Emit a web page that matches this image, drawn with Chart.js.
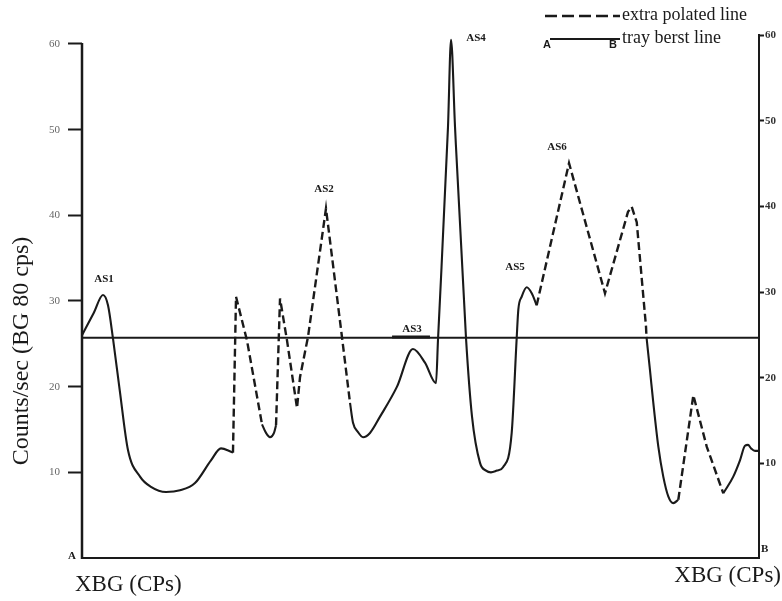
<!DOCTYPE html>
<html>
<head>
<meta charset="utf-8">
<script src="https://cdn.jsdelivr.net/npm/chart.js@4"></script>
<style>
html,body{margin:0;padding:0;background:#fff}
#wrap{width:782px;height:601px;position:relative}
</style>
</head>
<body>
<div id="wrap"><canvas id="c" width="782" height="601"></canvas></div>
<script>
// Position along the traverse A–B (axis units, 0 = A, 100 = B)
const traverse = [
  0.00, 1.73, 3.10, 3.84, 4.58, 5.57, 6.79, 8.57, 10.19, 12.41,
  14.48, 16.69, 19.05, 20.53, 22.01, 22.30, 22.75, 24.37, 26.59, 27.18,
  27.77, 28.36, 28.66, 29.25, 30.28, 31.76, 32.20, 33.38, 36.04, 38.40,
  39.59, 40.03, 40.77, 41.51, 42.54, 44.02, 46.53, 48.89, 50.66, 52.29,
  52.58, 54.06, 54.51, 55.10, 56.72, 57.61, 58.79, 59.68, 60.41, 61.30,
  62.19, 63.47, 64.21, 64.45, 64.95, 65.69, 66.43, 67.16, 71.94, 77.25,
  80.65, 81.20, 81.94, 83.31, 83.38, 83.90, 84.39, 85.13, 85.86, 86.60,
  87.34, 88.08, 90.30, 92.28, 94.73, 96.20, 97.19, 97.93, 98.38, 98.82,
  99.41, 100.0
];
// Counts/sec read at each traverse position
const counts = [
  26.0, 28.6, 30.7, 29.5, 25.6, 19.6, 12.6, 9.5, 8.3, 7.7,
  7.9, 8.75, 11.4, 12.8, 12.4, 12.3, 30.5, 25.4, 15.6, 14.6,
  14.1, 14.6, 15.5, 30.3, 25.4, 17.5, 21.1, 25.8, 40.8, 25.8,
  18.1, 15.8, 14.7, 14.1, 14.6, 16.5, 20.0, 24.4, 22.8, 20.4,
  25.4, 50.3, 60.5, 50.3, 25.7, 16.5, 11.1, 10.2, 10.0, 10.2,
  10.6, 14.6, 25.7, 29.0, 30.5, 31.6, 30.9, 29.5, 46.1, 30.9,
  40.4, 41.0, 39.2, 27.0, 25.8, 21.9, 18.1, 13.0, 9.5, 7.2,
  6.4, 6.8, 19.0, 13.0, 7.55, 9.5, 11.4, 13.1, 13.2, 12.8,
  12.5, 12.5
];
// Kind of stretch starting at each point: 's' = tray berst (measured), 'd' = extra polated
const lineKind = [
  's','s','s','s','s','s','s','s','s','s',
  's','s','s','s','s','d','d','d','s','s',
  's','s','d','d','d','d','d','d','d','d',
  's','s','s','s','s','s','s','s','s','s',
  's','s','s','s','s','s','s','s','s','s',
  's','s','s','s','s','s','s','d','d','d',
  'd','d','d','d','s','s','s','s','s','s',
  's','d','d','d','s','s','s','s','s','s',
  's'
];
const backgroundLevel = 25.7;
const as3Span = [45.8, 51.4];
const tickValues = [0, 10, 20, 30, 40, 50, 60];
const anomalyNames = ['AS1', 'AS2', 'AS3', 'AS4', 'AS5', 'AS6'];
const anomalyAt    = [3.25, 35.75, 48.74, 58.2, 63.96, 70.16];
const anomalyLevel = [32.6, 43.1, 26.7, 60.7, 33.9, 48.0];
const legendTexts = ['extra polated line', 'tray berst line'];
const yTitle = 'Counts/sec (BG 80 cps)';
const xTitle = 'XBG (CPs)';

const SERIF = '"Liberation Serif","Times New Roman",serif';
const INK = '#1a1a1a';

function build(kind) {
  const out = [];
  for (let i = 0; i < traverse.length - 1; i++) {
    if (lineKind[i] === kind) {
      const last = out[out.length - 1];
      if (!last || last.y === null || last.x !== traverse[i]) out.push({x: traverse[i], y: counts[i]});
      out.push({x: traverse[i + 1], y: counts[i + 1]});
    } else if (out.length && out[out.length - 1].y !== null) {
      out.push({x: (traverse[i] + traverse[i + 1]) / 2, y: null});
    }
  }
  return out;
}

const decor = {
  id: 'decor',
  afterDraw(chart) {
    const {ctx, chartArea: a, scales: {x, y, y2}} = chart;
    ctx.save();
    // left axis line (from 60 down to A)
    ctx.strokeStyle = INK; ctx.lineWidth = 2.5;
    ctx.beginPath();
    ctx.moveTo(a.left, y.getPixelForValue(60) - 1);
    ctx.lineTo(a.left, a.bottom + 1);
    ctx.stroke();

    ctx.fillStyle = INK;
    // end letters
    ctx.font = 'bold 11px ' + SERIF;
    ctx.textAlign = 'center'; ctx.textBaseline = 'middle';
    ctx.fillText('A', a.left - 10, a.bottom - 2);
    ctx.textAlign = 'left';
    ctx.fillText('B', a.right + 2, y2.getPixelForValue(0));

    // anomaly labels
    ctx.font = 'bold 11px ' + SERIF;
    ctx.textAlign = 'center';
    anomalyNames.forEach((n, i) => {
      ctx.fillText(n, x.getPixelForValue(anomalyAt[i]), y.getPixelForValue(anomalyLevel[i]));
    });

    // y title
    ctx.save();
    ctx.font = '24px ' + SERIF;
    ctx.translate(22, 351);
    ctx.rotate(-Math.PI / 2);
    ctx.textAlign = 'center'; ctx.textBaseline = 'middle';
    ctx.fillText(yTitle, 0, 0);
    ctx.restore();

    // bottom titles
    ctx.font = '23px ' + SERIF;
    ctx.textBaseline = 'middle';
    ctx.textAlign = 'left';
    ctx.fillText(xTitle, 75, 585);
    ctx.textAlign = 'right';
    ctx.fillText(xTitle, 781, 576);

    // legend
    ctx.lineWidth = 2.4;
    ctx.setLineDash([12, 5]);
    ctx.beginPath(); ctx.moveTo(545, 16); ctx.lineTo(620, 16); ctx.stroke();
    ctx.setLineDash([]);
    ctx.lineWidth = 2.2;
    ctx.beginPath(); ctx.moveTo(550, 39); ctx.lineTo(620, 39); ctx.stroke();
    ctx.font = '18px ' + SERIF;
    ctx.textAlign = 'left'; ctx.textBaseline = 'middle';
    ctx.fillText(legendTexts[0], 622, 15);
    ctx.fillText(legendTexts[1], 622, 38);
    ctx.font = 'bold 11px "Liberation Sans",Arial,sans-serif';
    ctx.textAlign = 'center';
    ctx.fillText('A', 547, 45);
    ctx.fillText('B', 613, 45);
    ctx.restore();
  }
};

const setTicks = s => { s.ticks = tickValues.map(v => ({value: v})); };
const hideZero = c => (c.tick && c.tick.value === 0) ? 'rgba(0,0,0,0)' : INK;

new Chart(document.getElementById('c'), {
  type: 'line',
  data: {
    datasets: [
      {
        label: 'background',
        data: [{x: 0, y: backgroundLevel}, {x: 100, y: backgroundLevel}],
        borderColor: INK, borderWidth: 2, pointRadius: 0, tension: 0
      },
      {
        label: 'AS3 span',
        data: [{x: as3Span[0], y: backgroundLevel + 0.1}, {x: as3Span[1], y: backgroundLevel + 0.1}],
        borderColor: INK, borderWidth: 2.8, pointRadius: 0, tension: 0
      },
      {
        label: 'tray berst line',
        data: build('s'),
        borderColor: INK, borderWidth: 2.1, pointRadius: 0,
        cubicInterpolationMode: 'monotone', spanGaps: false
      },
      {
        label: 'extra polated line',
        data: build('d'),
        borderColor: INK, borderWidth: 2.4, pointRadius: 0,
        borderDash: [8, 4], tension: 0, spanGaps: false
      }
    ]
  },
  options: {
    responsive: false,
    animation: false,
    devicePixelRatio: 1,
    layout: {padding: {top: 35, left: 0, right: 0, bottom: 0}},
    plugins: {legend: {display: false}, tooltip: {enabled: false}},
    scales: {
      x: {
        type: 'linear', min: 0, max: 100,
        ticks: {display: false},
        grid: {display: true, drawOnChartArea: false, drawTicks: false, color: 'rgba(0,0,0,0)'},
        border: {display: true, color: INK, width: 2},
        afterFit: s => { s.height = 43; }
      },
      y: {
        type: 'linear', position: 'left', min: 0, max: 61.05,
        afterBuildTicks: setTicks,
        ticks: {
          callback: v => v === 0 ? '' : String(v),
          font: {family: SERIF, size: 11}, color: '#666', padding: 8
        },
        grid: {drawOnChartArea: false, tickLength: 14, tickWidth: 2, tickColor: hideZero, color: INK},
        border: {display: false},
        afterFit: s => { s.width = 82; }
      },
      y2: {
        type: 'linear', position: 'right', min: -1.05, max: 60,
        afterBuildTicks: setTicks,
        ticks: {
          callback: v => v === 0 ? '' : String(v),
          font: {family: SERIF, size: 11, weight: 'bold'}, color: '#333', padding: 1
        },
        grid: {drawOnChartArea: false, tickLength: 5, tickWidth: 2, tickColor: hideZero, color: INK},
        border: {display: true, color: INK, width: 2},
        afterFit: s => { s.width = 23; }
      }
    }
  },
  plugins: [decor]
});
</script>
</body>
</html>
